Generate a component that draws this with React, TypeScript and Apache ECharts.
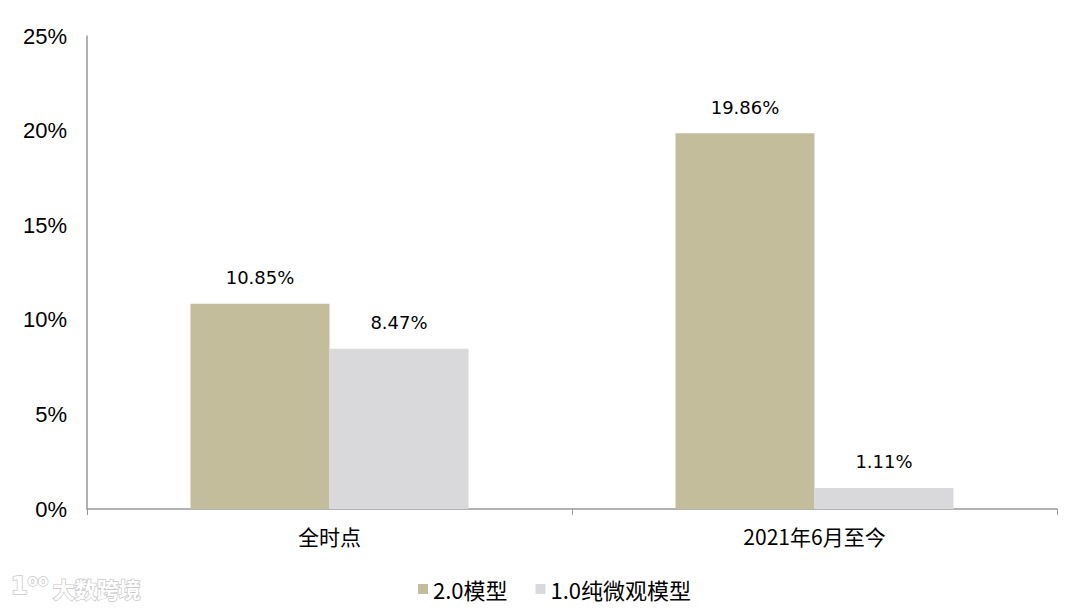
import React, { useEffect, useRef } from "react";
import * as echarts from "echarts";

const categories = ["全时点", "2021年6月至今"];
const seriesNames = ["2.0模型", "1.0纯微观模型"];
const model20 = [10.85, 19.86];
const model10 = [8.47, 1.11];
const yTicks = [0, 5, 10, 15, 20, 25];

export default function App() {
  const ref = useRef<HTMLDivElement>(null);
  useEffect(() => {
    if (!ref.current) return;
    const chart = echarts.init(ref.current, null, { renderer: "svg" });
    const labelStyle = {
      show: true,
      position: "top" as const,
      distance: 17,
      color: "#000",
      fontSize: 18,
      fontFamily: "DejaVu Sans",
      formatter: (p: any) => p.value.toFixed(2) + "%",
    };
    chart.setOption({
      animation: false,
      backgroundColor: "#fff",
      grid: { left: 87, right: 23, top: 36, bottom: 101 },
      legend: {
        bottom: 5,
        left: 413,
        icon: "rect",
        itemWidth: 10,
        itemHeight: 10,
        itemGap: 28,
        textStyle: { fontSize: 22, color: "#000", fontFamily: "Noto Sans CJK SC" },
        data: seriesNames,
      },
      xAxis: {
        type: "category",
        data: categories,
        axisLine: { lineStyle: { color: "#999", width: 1.5 } },
        axisTick: { show: true, length: 6, lineStyle: { color: "#999" } },
        axisLabel: { fontSize: 21, color: "#000", margin: 16, fontFamily: "Noto Sans CJK SC" },
      },
      yAxis: {
        type: "value",
        min: yTicks[0],
        max: yTicks[yTicks.length - 1],
        interval: 5,
        axisLine: { show: true, lineStyle: { color: "#999", width: 1.5 } },
        axisTick: { show: false },
        splitLine: { show: false },
        axisLabel: {
          fontSize: 22,
          color: "#000",
          margin: 20,
          fontFamily: "Liberation Sans",
          formatter: (v: number) => v + "%",
        },
      },
      series: [
        {
          name: seriesNames[0],
          type: "bar",
          data: model20,
          barWidth: 139,
          barGap: "0%",
          itemStyle: { color: "#C4BD9B" },
          label: labelStyle,
        },
        {
          name: seriesNames[1],
          type: "bar",
          data: model10,
          barWidth: 139,
          barGap: "0%",
          itemStyle: { color: "#D9D9DB" },
          label: labelStyle,
        },
      ],
      graphic: [
        {
          type: "text",
          left: 10,
          top: 573,
          style: {
            text: "1⁰⁰",
            fontSize: 24,
            fontWeight: "bold",
            fill: "#fff",
            stroke: "#c8c8c8",
            lineWidth: 1.5,
            fontFamily: "DejaVu Sans",
          },
        },
        {
          type: "text",
          left: 52,
          top: 576,
          style: {
            text: "大数跨境",
            fontSize: 22,
            fontWeight: "bold",
            fill: "#fff",
            stroke: "#c8c8c8",
            lineWidth: 1.5,
            fontFamily: "Noto Sans CJK SC",
          },
        },
      ],
    });
    return () => chart.dispose();
  }, []);
  return <div ref={ref} style={{ width: 1080, height: 610, margin: -8 }} />;
}
